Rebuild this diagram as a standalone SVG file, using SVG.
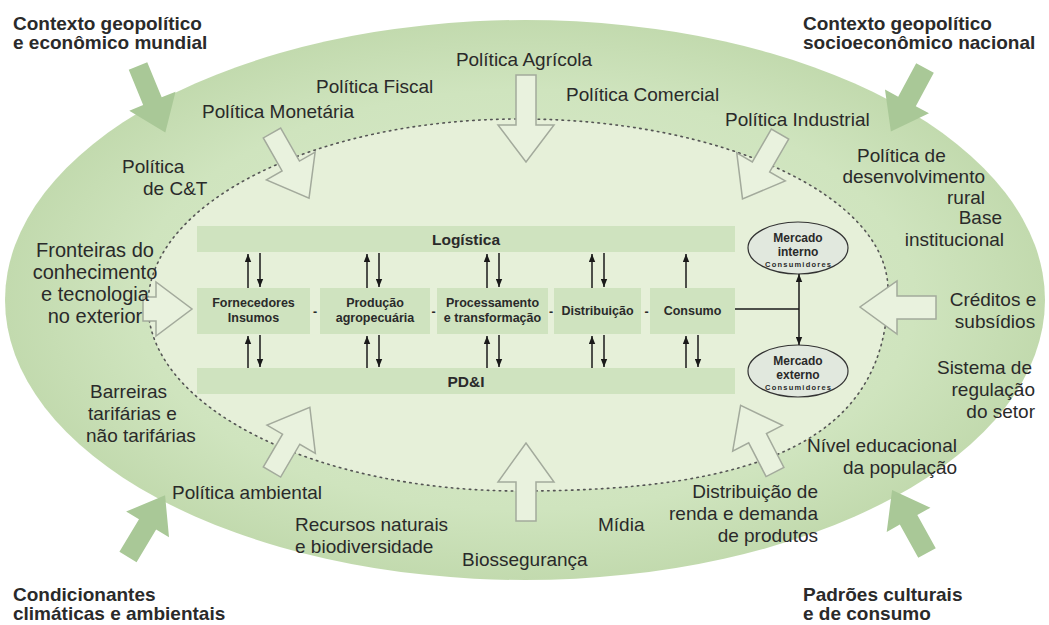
<svg xmlns="http://www.w3.org/2000/svg" width="1049" height="625" viewBox="0 0 1049 625">
<defs>
<radialGradient id="og" cx="50%" cy="50%" r="50%">
<stop offset="0" stop-color="#dcebce"/>
<stop offset="0.75" stop-color="#cfe4be"/>
<stop offset="1" stop-color="#c2daae"/>
</radialGradient>
<marker id="ah" viewBox="0 0 10 8" refX="10" refY="4" markerWidth="8" markerHeight="7" orient="auto-start-reverse" markerUnits="userSpaceOnUse">
<path d="M0,0 L10,4 L0,8 z" fill="#1a1a1a"/>
</marker>
<polygon id="dh" class="ha" points="0,-10 38,-10 38,-28 75,0 38,28 38,10 0,10"/>
<polygon id="ca" class="cv" points="0,-10 38,-10 38,-25 72,0 38,25 38,10 0,10"/>
<style>
.t{font-family:"Liberation Sans",Arial,sans-serif;font-size:19px;fill:#2a2a2a}
.b{font-weight:bold}
.m{text-anchor:middle}
.e{text-anchor:end}
.bx{fill:#cfe3bf}
.bt{font-family:"Liberation Sans",Arial,sans-serif;font-size:12.5px;font-weight:bold;fill:#2a2a2a;text-anchor:middle}
.ha{fill:#e9f2de;stroke:#a3aa9c;stroke-width:1.5}
.cv{fill:#a9c897}
.ln{stroke:#1a1a1a;stroke-width:1.5;fill:none}
.mk{fill:#e1e8de;stroke:#333;stroke-width:1.2}
</style>
</defs>

<g id="background">
<ellipse cx="525" cy="300" rx="520" ry="280" fill="url(#og)"/>
<path id="inner-boundary" d="M520,119 C722,119 888,196 888,290 C888,440 760,491 520,491 C315,491 148,407 148,305 C148,203 315,119 520,119 Z" fill="#e6f0d9" stroke="#555" stroke-width="1.6" stroke-dasharray="1.5 4.5" stroke-linecap="round"/>
</g>

<g id="context-arrows">
<use href="#ca" transform="translate(138,66) rotate(67.7)"/>
<use href="#ca" transform="translate(925,68) rotate(118.3)"/>
<use href="#ca" transform="translate(128,557) rotate(-59)"/>
<use href="#ca" transform="translate(927,553) rotate(-119)"/>
</g>

<g id="policy-arrows">
<polygon class="ha" points="516,75 536,75 536,125 554,125 526,162 498,125 516,125"/>
<polygon class="ha" points="516,521 536,521 536,482 554,482 526,443 498,482 516,482"/>
<polygon class="ha" points="143,297 156,297 156,282 192,309 156,336 156,321 143,321"/>
<polygon class="ha" points="936,296 897,296 897,281 860,307 897,334 897,319 936,319"/>
<use href="#dh" transform="translate(272,133) rotate(60.4)"/>
<use href="#dh" transform="translate(780,134) rotate(120)"/>
<use href="#dh" transform="translate(272,472) rotate(-59.7)"/>
<use href="#dh" transform="translate(775,472) rotate(-117.3)"/>
</g>

<g id="logistica"><rect class="bx" x="197" y="226" width="538" height="26"/><text class="t b m" x="466" y="245" style="font-size:15.5px">Logística</text></g>
<g id="pdi"><rect class="bx" x="197" y="368" width="538" height="26"/><text class="t b m" x="466" y="387" style="font-size:15.5px">PD&amp;I</text></g>

<g id="fornecedores"><rect class="bx" x="197" y="288" width="113" height="46"/><text class="bt" x="253.5" y="307">Fornecedores</text><text class="bt" x="253.5" y="322">Insumos</text></g>
<g id="producao"><rect class="bx" x="320" y="288" width="110" height="46"/><text class="bt" x="375" y="307">Produção</text><text class="bt" x="375" y="322">agropecuária</text></g>
<g id="processamento"><rect class="bx" x="437" y="288" width="111" height="46"/><text class="bt" x="492.5" y="307">Processamento</text><text class="bt" x="492.5" y="322">e transformação</text></g>
<g id="distribuicao"><rect class="bx" x="554" y="288" width="87" height="46"/><text class="bt" x="597.5" y="315">Distribuição</text></g>
<g id="consumo"><rect class="bx" x="650" y="288" width="85" height="46"/><text class="bt" x="692.5" y="315">Consumo</text></g>
<g id="dashes"><text class="bt" x="315" y="316">-</text><text class="bt" x="433.5" y="316">-</text><text class="bt" x="551" y="316">-</text><text class="bt" x="646.5" y="316">-</text></g>

<g id="mercado-interno"><ellipse class="mk" cx="798" cy="248" rx="50" ry="26"/><text class="bt" x="798" y="242" style="font-size:12px">Mercado</text><text class="bt" x="798" y="256" style="font-size:12px">interno</text><text class="bt" x="798" y="267" style="font-size:7.5px" textLength="66" lengthAdjust="spacing">Consumidores</text></g>
<g id="mercado-externo"><ellipse class="mk" cx="798" cy="371" rx="50" ry="26"/><text class="bt" x="798" y="365" style="font-size:12px">Mercado</text><text class="bt" x="798" y="379" style="font-size:12px">externo</text><text class="bt" x="798" y="390" style="font-size:7.5px" textLength="66" lengthAdjust="spacing">Consumidores</text></g>

<g id="connectors">
<path class="ln" marker-end="url(#ah)" d="M248,288 V254"/><path class="ln" marker-end="url(#ah)" d="M260,253 V287"/>
<path class="ln" marker-end="url(#ah)" d="M367,288 V254"/><path class="ln" marker-end="url(#ah)" d="M379,253 V287"/>
<path class="ln" marker-end="url(#ah)" d="M487,288 V254"/><path class="ln" marker-end="url(#ah)" d="M499,253 V287"/>
<path class="ln" marker-end="url(#ah)" d="M592,288 V254"/><path class="ln" marker-end="url(#ah)" d="M604,253 V287"/>
<path class="ln" marker-end="url(#ah)" d="M686,288 V254"/>
<path class="ln" marker-end="url(#ah)" d="M248,368 V336"/><path class="ln" marker-end="url(#ah)" d="M260,335 V367"/>
<path class="ln" marker-end="url(#ah)" d="M367,368 V336"/><path class="ln" marker-end="url(#ah)" d="M379,335 V367"/>
<path class="ln" marker-end="url(#ah)" d="M487,368 V336"/><path class="ln" marker-end="url(#ah)" d="M499,335 V367"/>
<path class="ln" marker-end="url(#ah)" d="M592,368 V336"/><path class="ln" marker-end="url(#ah)" d="M604,335 V367"/>
<path class="ln" marker-end="url(#ah)" d="M686,368 V336"/><path class="ln" marker-end="url(#ah)" d="M698,335 V367"/>
<path class="ln" d="M735,309 H799"/>
<path class="ln" marker-start="url(#ah)" marker-end="url(#ah)" d="M799,274 V345"/>
</g>

<g id="context-labels" class="t b">
<text x="13" y="30">Contexto geopolítico</text><text x="13" y="49">e econômico mundial</text>
<text x="803" y="30">Contexto geopolítico</text><text x="803" y="49">socioeconômico nacional</text>
<text x="13" y="601">Condicionantes</text><text x="13" y="620">climáticas e ambientais</text>
<text x="803" y="601">Padrões culturais</text><text x="803" y="620">e de consumo</text>
</g>

<g id="factor-labels" class="t">
<text class="m" x="524" y="66">Política Agrícola</text>
<text x="316" y="93">Política Fiscal</text>
<text x="566" y="101">Política Comercial</text>
<text x="202" y="118">Política Monetária</text>
<text x="725" y="126">Política Industrial</text>
<text x="122" y="173">Política</text><text x="143" y="195">de C&amp;T</text>
<text x="857" y="162">Política de</text><text class="e" x="985" y="183">desenvolvimento</text><text class="e" x="985" y="204">rural</text>
<text class="e" x="1002" y="224">Base</text><text class="e" x="1004" y="246">institucional</text>
<g class="m" style="font-size:20px"><text x="95" y="257">Fronteiras do</text><text x="95" y="279">conhecimento</text><text x="95" y="301">e tecnologia</text><text x="95" y="323">no exterior</text></g>
<text class="m" x="993" y="306">Créditos e</text><text class="m" x="995" y="328">subsídios</text>
<text x="90" y="398">Barreiras</text><text x="88" y="420">tarifárias e</text><text x="86" y="442">não tarifárias</text>
<text class="e" x="1032" y="374">Sistema de</text><text class="e" x="1035" y="396">regulação</text><text class="e" x="1035" y="418">do setor</text>
<text x="807" y="452">Nível educacional</text><text x="843" y="474">da população</text>
<text x="172" y="499">Política ambiental</text>
<text class="e" x="818" y="498">Distribuição de</text><text class="e" x="818" y="520">renda e demanda</text><text class="e" x="818" y="542">de produtos</text>
<text x="295" y="531">Recursos naturais</text><text x="295" y="553">e biodiversidade</text>
<text x="598" y="531">Mídia</text>
<text x="462" y="566">Biossegurança</text>
</g>
</svg>
